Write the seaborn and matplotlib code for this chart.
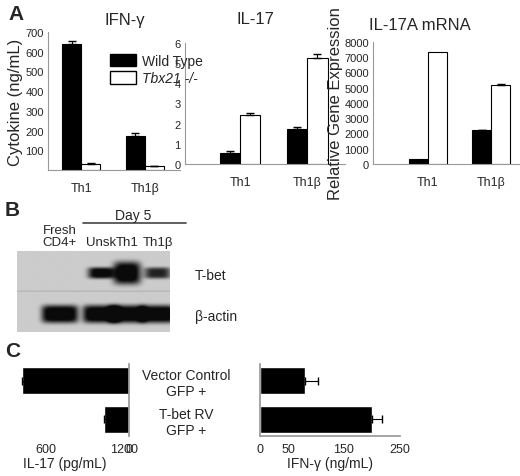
import numpy as np
import pandas as pd
import matplotlib
matplotlib.use("Agg")
import matplotlib.pyplot as plt
import seaborn as sns
from matplotlib.patches import Patch

sns.set_theme(style="white")
plt.rcParams['font.family'] = ['Liberation Sans', 'DejaVu Sans']

groups = ["Th1", "Th1β"]
genotypes = ["Wild Type", "Tbx21 -/-"]
ifng = [[640, 30], [172, 18]]
ifng_err = [[15, 4], [15, 4]]
il17 = [[0.55, 2.45], [1.75, 5.25]]
il17_err = [[0.1, 0.1], [0.1, 0.2]]
mrna = [[300, 7350], [2200, 5200]]
mrna_err = [[0, 0], [30, 30]]

lanes = ["Fresh\nCD4+", "Unsk", "Th1", "Th1β"]
tbet_int = [0.0, 0.95, 1.0, 0.75]
actin_int = [1.0, 1.0, 1.0, 1.0]

c_labels = ["Vector Control\nGFP +", "T-bet RV\nGFP +"]
c_il17 = [1290, 300]
c_il17_err = [170, 100]
c_ifng = [80, 200]
c_ifng_err = [23, 18]

fig = plt.figure(figsize=(5.2, 4.77), dpi=100)

def px(l, t, r, b):
    return [l/520, 1-b/477, (r-l)/520, (b-t)/477]

def bars(ax, vals, errs, ymax, ticks, xlim):
    df = pd.DataFrame([(g, genotypes[j], vals[i][j]) for i, g in enumerate(groups) for j in range(2)],
                      columns=["group", "geno", "val"])
    sns.barplot(data=df, x="group", y="val", hue="geno", palette=["black", "white"],
                edgecolor="black", linewidth=0.8, width=0.6, ax=ax, legend=False, errorbar=None)
    for i in range(2):
        for j in range(2):
            xx = i + (-0.15 if j == 0 else 0.15)
            if errs[i][j] > 0:
                ax.errorbar(xx, vals[i][j], yerr=[[0], [errs[i][j]]], color="black", capsize=3, lw=0.8)
    ax.set_ylim(0, ymax)
    ax.set_xlim(*xlim)
    ax.set_yticks(ticks)
    ax.tick_params(axis="y", labelsize=8, length=2, pad=1, color="#888")
    ax.tick_params(axis="x", labelsize=9, length=0, pad=9)
    ax.set_xlabel("")
    ax.set_ylabel("")
    for s in ["top", "right"]:
        ax.spines[s].set_visible(False)
    for s in ["left", "bottom"]:
        ax.spines[s].set_color("#999")
        ax.spines[s].set_linewidth(0.8)

a1 = fig.add_axes(px(48, 33, 180, 171))
bars(a1, ifng, ifng_err, 700, range(100, 701, 100), (-0.52, 1.55))
a1.set_ylabel("Cytokine (ng/mL)", fontsize=12, labelpad=2)
fig.text(125/520, 1-20/477, "IFN-γ", fontsize=12, ha="center", va="center")
leg = fig.legend(handles=[Patch(fc="black", ec="black"), Patch(fc="white", ec="black")],
                 labels=["Wild Type", "Tbx21 -/-"], loc="upper left",
                 bbox_to_anchor=(103/520, 1-48/477), frameon=False, fontsize=10,
                 handlelength=1.9, handleheight=1.0, borderpad=0, labelspacing=0.25, handletextpad=0.4)
leg.get_texts()[1].set_style("italic")

a2 = fig.add_axes(px(185, 44, 345, 165))
bars(a2, il17, il17_err, 6, range(0, 7), (-0.82, 1.56))
fig.text(255/520, 1-20/477, "IL-17", fontsize=12, ha="center", va="center")

a3 = fig.add_axes(px(373, 43, 520, 165))
bars(a3, mrna, mrna_err, 8000, range(0, 8001, 1000), (-0.86, 1.45))
a3.set_ylabel("Relative Gene Expression", fontsize=12, labelpad=1)
fig.text(420/520, 1-25/477, "IL-17A mRNA", fontsize=12, ha="center", va="center")

fig.text(8/520, 1-14/477, "A", fontsize=15, fontweight="bold", va="center")
fig.text(5/520, 1-210/477, "B", fontsize=15, fontweight="bold", va="center")
fig.text(5/520, 1-352/477, "C", fontsize=15, fontweight="bold", va="center")

# Panel B blot
ab = fig.add_axes(px(17, 252, 170, 333))
W, H = 300, 160
xs = np.linspace(0, 1, W)[None, :]
ys = np.linspace(0, 1, H)[:, None]
img = np.full((H, W), 0.8)
centers = [0.28, 0.55, 0.72, 0.92]
for k, c in enumerate(centers):
    wd = 0.085 if k != 2 else 0.09
    t = tbet_int[k]
    img -= 0.9 * t * np.exp(-((xs - c) / wd) ** 4 - ((ys - 0.27) / (0.07 + 0.07 * (k == 2))) ** 4)
    a = actin_int[k]
    img -= 0.9 * a * np.exp(-((xs - c) / 0.12) ** 6 - ((ys - 0.78) / 0.11) ** 4)
img = np.clip(img, 0.04, 1)
img[78:81, :] = 0.72
ab.imshow(img, cmap="gray", vmin=0, vmax=1, aspect="auto", extent=(0, 1, 1, 0))
ab.set_xlim(0, 1); ab.set_ylim(1, 0)
ab.axis("off")
for k, lab in enumerate(lanes):
    fig.text((17 + centers[k]*153)/520, 1-249/477, lab, ha="center", va="bottom", fontsize=9.5, linespacing=1.05)
fig.text(133/520, 1-216/477, "Day 5", ha="center", va="center", fontsize=10)
fig.add_artist(plt.Line2D([83/520, 186/520], [1-224/477]*2, color="#444", lw=1.2))
fig.text(195/520, 1-276/477, "T-bet", fontsize=10, va="center")
fig.text(195/520, 1-317/477, "β-actin", fontsize=10, va="center")

# Panel C
cl = fig.add_axes(px(0, 365, 129, 437))
dfc = pd.DataFrame({"lab": c_labels, "v": c_il17})
sns.barplot(data=dfc, y="lab", x="v", color="black", width=0.7, ax=cl, errorbar=None, orient="h")
cl.errorbar(c_il17, range(2), xerr=[c_il17_err, [0, 0]], fmt="none", color="black", capsize=3, lw=0.8)
cl.set_xlim(1550, 0)
cl.set_xticks([1300, 1000, 700, 400, 200, 60, 0])
cl.set_xticklabels(["", "600", "", "", "", "1200", "0"])
cl.set_yticklabels([])
cl.set_ylabel(""); cl.set_xlabel("IL-17 (pg/mL)", fontsize=10, labelpad=1)
cl.yaxis.tick_right()
cl.tick_params(axis="y", length=0)
cl.tick_params(axis="x", labelsize=9, length=2, pad=3, color="#888")
for s in ["top", "left", "bottom"]:
    cl.spines[s].set_visible(False)
cl.spines["right"].set_color("#999")

cr = fig.add_axes(px(260, 365, 400, 437))
dfr = pd.DataFrame({"lab": c_labels, "v": c_ifng})
sns.barplot(data=dfr, y="lab", x="v", color="black", width=0.7, ax=cr, errorbar=None, orient="h")
cr.errorbar(c_ifng, range(2), xerr=[[0, 0], c_ifng_err], fmt="none", color="black", capsize=3, lw=0.8)
cr.set_xlim(0, 250)
cr.set_xticks([0, 50, 150, 250])
cr.set_ylabel(""); cr.set_xlabel("IFN-γ (ng/mL)", fontsize=10, labelpad=1)
cr.tick_params(axis="y", length=0, labelsize=10)
for t in cr.get_yticklabels():
    t.set_ha("center")
cr.tick_params(axis="y", pad=53)
cr.tick_params(axis="x", labelsize=9, length=2, pad=3, color="#888")
for s in ["top", "right"]:
    cr.spines[s].set_visible(False)
for s in ["left", "bottom"]:
    cr.spines[s].set_color("#999")

fig.savefig("out.png", dpi=100)
